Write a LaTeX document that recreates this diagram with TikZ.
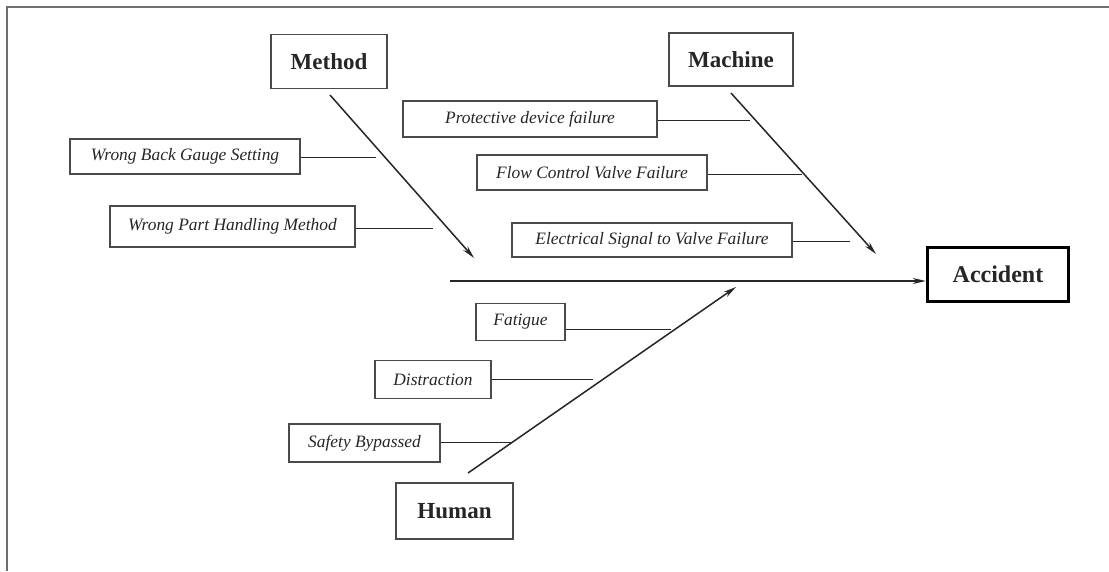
\documentclass[tikz,border=0pt]{standalone}
\usepackage{fontspec}
\setmainfont{Liberation Serif}
\usetikzlibrary{arrows.meta}
\definecolor{ink}{HTML}{262626}
\definecolor{boxline}{HTML}{4A4A4A}
\definecolor{framecol}{HTML}{6E6E6E}
\tikzset{
  head/.style={draw=boxline, line width=1.4pt, text=ink, inner sep=0pt,
    font=\fontsize{23}{25}\selectfont\bfseries},
  cause/.style={draw=boxline, line width=1.3pt, text=ink, inner sep=0pt,
    font=\fontsize{17.4}{19}\selectfont\itshape},
  effect/.style={draw=black, line width=3.5pt, text=ink, inner sep=0pt,
    font=\fontsize{24}{26}\selectfont\bfseries},
  bone/.style={draw=ink, line width=1.5pt, -{Stealth[length=13pt,width=6pt]}},
  rib/.style={draw=ink, line width=0.9pt},
  frameline/.style={draw=framecol, line width=1.5pt}
}
\begin{document}
\begin{tikzpicture}[x=1pt,y=-1pt]
\useasboundingbox (0,0) rectangle (1109,571);
\fill[white] (0,0) rectangle (1109,571);
% frame
\coordinate (fbl) at (7,571);
\coordinate (ftl) at (7,7);
\coordinate (ftr) at (1109,7);
\draw[frameline] (fbl) -- (ftl) -- (ftr);

% main heads
\node[head, minimum width=116pt, minimum height=54pt] (method) at (329,61.5) {Method};
\node[head, minimum width=124pt, minimum height=53pt] (machine) at (731,59.5) {Machine};
\node[head, minimum width=117pt, minimum height=56pt] (human) at (454.5,511) {Human};
\node[effect, minimum width=141pt, minimum height=54pt] (accident) at (998,274.5) {Accident};

% causes
\node[cause, minimum width=230pt, minimum height=35pt] (wbg) at (185,156.5) {Wrong Back Gauge Setting};
\node[cause, minimum width=245pt, minimum height=41pt] (wph) at (232.5,226.5) {Wrong Part Handling Method};
\node[cause, minimum width=254pt, minimum height=36pt] (pdf) at (530,119) {Protective device failure};
\node[cause, minimum width=230pt, minimum height=35pt] (fcv) at (592,172.5) {Flow Control Valve Failure};
\node[cause, minimum width=280pt, minimum height=34pt] (esv) at (652,240) {Electrical Signal to Valve Failure};
\node[cause, minimum width=89pt, minimum height=37pt] (fat) at (520.5,322) {Fatigue};
\node[cause, minimum width=116pt, minimum height=38pt] (dis) at (433,379.5) {Distraction};
\node[cause, minimum width=151pt, minimum height=38pt] (sbp) at (364.5,443) {Safety Bypassed};

% spine and bone ends
\coordinate (spinestart) at (450,281);
\coordinate (methodtip) at (474,258);
\coordinate (machinetail) at (731,93);
\coordinate (machinetip) at (876,254);
\coordinate (methodtail) at (330,95);
\coordinate (humantail) at (468,473);
\coordinate (humantip) at (736,287);

\draw[bone] (spinestart) -- (spinestart -| accident.west);
\draw[bone] (methodtail) -- (methodtip);
\draw[bone] (machinetail) -- (machinetip);
\draw[bone] (humantail) -- (humantip);

% ribs
\coordinate (wbgend) at (376,157);
\coordinate (wphend) at (433,228);
\coordinate (pdfend) at (750,120);
\coordinate (fcvend) at (802,174);
\coordinate (esvend) at (850,241);
\coordinate (fatend) at (671,329);
\coordinate (disend) at (593,379);
\coordinate (sbpend) at (511,442);

\draw[rib] (wbg.east |- wbgend) -- (wbgend);
\draw[rib] (wph.east |- wphend) -- (wphend);
\draw[rib] (pdf.east |- pdfend) -- (pdfend);
\draw[rib] (fcv.east |- fcvend) -- (fcvend);
\draw[rib] (esv.east |- esvend) -- (esvend);
\draw[rib] (fat.east |- fatend) -- (fatend);
\draw[rib] (dis.east |- disend) -- (disend);
\draw[rib] (sbp.east |- sbpend) -- (sbpend);
\end{tikzpicture}
\end{document}
